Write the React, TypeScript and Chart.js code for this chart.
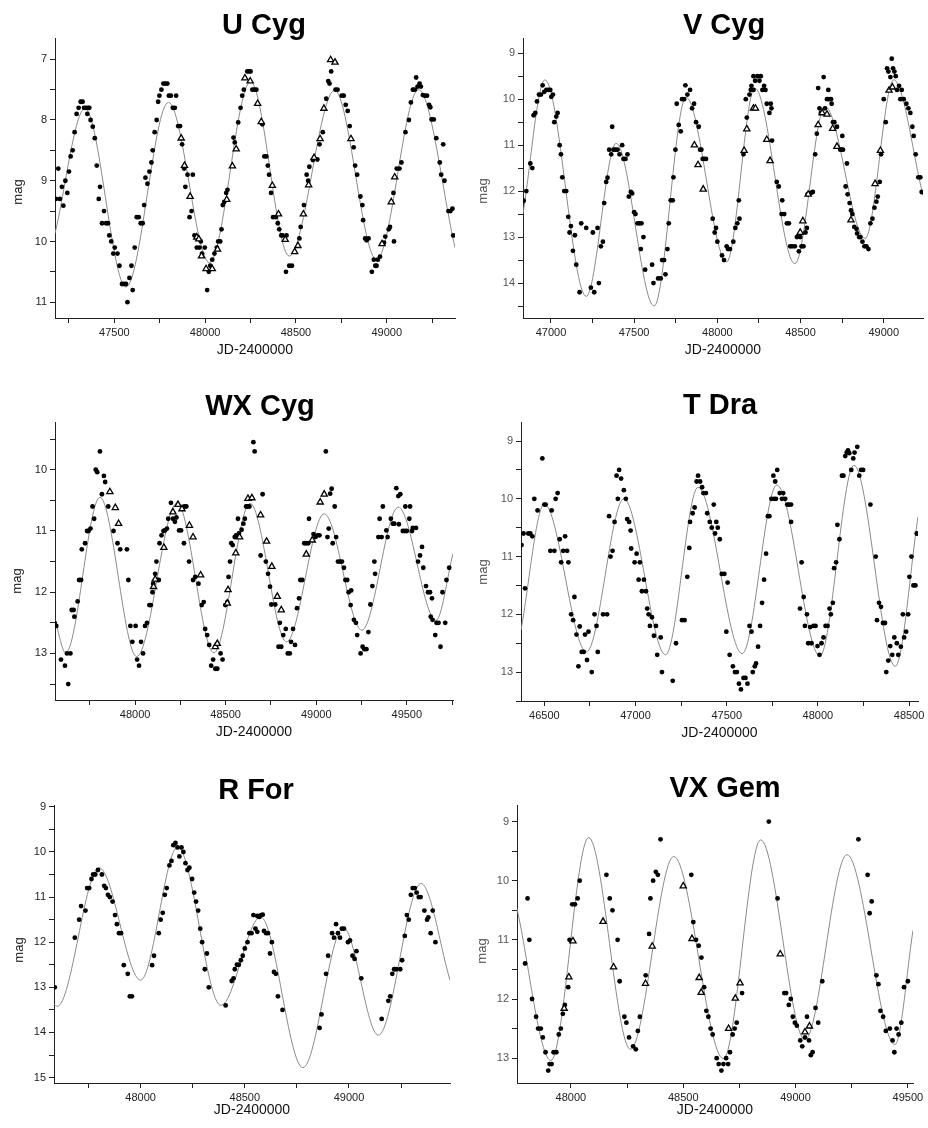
import { useEffect, useRef } from 'react';
import { Chart, registerables } from 'chart.js';

Chart.register(...registerables);

type Pt = [number, number];

// ---- U Cyg ----
const U_CYG_DOTS: Pt[] = [
  [47178, 9.3], [47191, 8.8], [47200, 9.3], [47211, 9.1], [47219, 9.41], [47230, 9.0], [47241, 9.2], [47250, 8.85],
  [47259, 8.6], [47270, 8.5], [47281, 8.2], [47292, 7.9], [47303, 7.8], [47314, 7.7], [47325, 7.7], [47333, 7.8],
  [47344, 7.8], [47351, 7.9], [47355, 7.8], [47362, 7.8], [47369, 8.0], [47381, 8.11], [47392, 8.3], [47403, 8.75],
  [47414, 9.3], [47421, 9.1], [47432, 9.7], [47443, 9.5], [47454, 9.7], [47465, 9.7], [47472, 9.9], [47483, 10.0],
  [47494, 10.2], [47502, 10.1], [47517, 10.2], [47528, 10.4], [47542, 10.7], [47553, 10.7], [47564, 10.7], [47572, 11.0],
  [47583, 10.6], [47594, 10.4], [47601, 10.8], [47612, 10.1], [47623, 9.6], [47634, 9.6], [47645, 9.7], [47656, 9.7],
  [47664, 9.4], [47671, 8.95], [47682, 9.05], [47693, 8.85], [47704, 8.7], [47711, 8.5], [47722, 8.2], [47733, 8.0],
  [47741, 7.7], [47748, 7.6], [47759, 7.5], [47770, 7.4], [47781, 7.4], [47792, 7.4], [47800, 7.6], [47811, 7.6],
  [47822, 7.8], [47833, 7.8], [47840, 7.6], [47851, 8.1], [47862, 8.1], [47873, 8.4], [47884, 8.8], [47891, 9.1],
  [47903, 8.9], [47914, 9.6], [47925, 9.5], [47932, 8.9], [47941, 9.9], [47954, 10.1], [47969, 10.1], [47976, 10.0],
  [47983, 10.2], [47998, 10.1], [48011, 10.8], [48020, 10.5], [48028, 10.4], [48039, 10.3], [48051, 10.2], [48064, 10.1],
  [48072, 10.0], [48083, 10.0], [48090, 9.8], [48097, 9.4], [48105, 9.35], [48116, 9.2], [48123, 9.15],
  [48156, 8.29], [48163, 8.37], [48182, 8.04], [48195, 7.8], [48204, 7.6], [48213, 7.5], [48232, 7.2], [48241, 7.2],
  [48250, 7.2], [48260, 7.5], [48271, 7.5], [48282, 7.5], [48315, 8.07], [48326, 8.6], [48337, 8.6], [48345, 8.75],
  [48352, 8.9], [48363, 9.2], [48374, 9.6], [48389, 9.6], [48400, 9.7], [48408, 9.8], [48419, 9.9], [48426, 9.9],
  [48445, 10.5], [48448, 9.9], [48463, 10.4], [48478, 10.4], [48519, 9.95], [48526, 9.76], [48544, 9.4], [48559, 8.9],
  [48567, 9.0], [48574, 8.77], [48593, 8.66], [48618, 8.65], [48630, 8.4], [48648, 8.2], [48667, 7.65], [48678, 7.36],
  [48685, 7.4], [48694, 7.2], [48718, 7.5], [48729, 7.5], [48752, 7.6], [48763, 7.6], [48774, 7.75], [48785, 7.85],
  [48796, 8.1], [48818, 8.45], [48826, 8.75], [48837, 8.9], [48855, 9.26], [48866, 9.4], [48870, 9.65], [48881, 9.95],
  [48889, 9.98], [48900, 9.95], [48918, 10.5], [48929, 10.3], [48937, 10.4], [48944, 10.4], [48951, 10.3], [48963, 10.25],
  [48985, 10.02], [48992, 9.92], [49011, 9.8], [49018, 9.76], [49037, 9.2], [49040, 10.0], [49055, 8.8], [49070, 8.8],
  [49081, 8.7], [49103, 8.2], [49122, 8.0], [49133, 7.71], [49144, 7.5], [49155, 7.5], [49162, 7.3], [49170, 7.45],
  [49181, 7.4], [49188, 7.45], [49199, 7.59], [49210, 7.6], [49222, 7.6], [49233, 7.75], [49240, 7.79], [49247, 7.99],
  [49259, 7.99], [49273, 8.3], [49292, 8.7], [49300, 8.9], [49311, 8.4], [49318, 9.0], [49340, 9.5], [49351, 9.5],
  [49362, 9.46], [49366, 9.9],
];
const U_CYG_TRIS: Pt[] = [
  [47868, 8.3], [47886, 8.75], [47917, 9.26], [47954, 9.93], [47965, 9.96], [47980, 10.24], [48005, 10.45], [48039, 10.45],
  [48068, 10.13], [48119, 9.31], [48150, 8.76], [48171, 8.48], [48219, 7.31], [48248, 7.36], [48289, 7.73], [48309, 8.03],
  [48370, 9.08], [48404, 9.55], [48441, 9.97], [48493, 10.17], [48511, 10.07], [48541, 9.55], [48570, 9.07], [48600, 8.62],
  [48633, 8.31], [48654, 7.81], [48691, 7.01], [48715, 7.05], [48803, 8.31], [48974, 10.04], [49025, 9.35], [49044, 8.94],
];
const U_CYG_FIT: Pt[] = [
  [47173, 9.87], [47338, 7.81], [47564, 10.75], [47798, 7.71], [48024, 10.35], [48250, 7.37],
  [48463, 10.24], [48713, 7.51], [48944, 10.3], [49175, 7.5], [49376, 10.1],
];

// ---- V Cyg ----
const V_CYG_DOTS: Pt[] = [
  [46836, 12.21], [46852, 12.0], [46876, 11.4], [46888, 11.5], [46896, 10.35], [46906, 10.3], [46916, 10.05], [46928, 9.9],
  [46940, 9.9], [46950, 9.7], [46960, 9.84], [46972, 9.8], [46984, 9.8], [46996, 9.8], [47002, 9.95], [47012, 9.9],
  [47020, 10.5], [47032, 10.38], [47040, 10.3], [47052, 11.0], [47060, 11.2], [47068, 11.7], [47080, 12.0], [47092, 12.0],
  [47104, 12.56], [47112, 12.9], [47120, 12.76], [47132, 13.3], [47144, 12.96], [47152, 13.6], [47172, 14.2], [47182, 12.7],
  [47212, 12.8], [47240, 14.1], [47252, 12.9], [47260, 14.2], [47280, 12.8], [47288, 14.0], [47300, 13.2], [47312, 13.1],
  [47320, 12.26], [47332, 11.8], [47340, 11.71], [47350, 11.1], [47362, 11.2], [47368, 10.6], [47376, 11.1], [47388, 11.1],
  [47400, 11.1], [47412, 11.2], [47428, 11.0], [47436, 11.3], [47448, 11.3], [47460, 11.2], [47468, 12.12], [47480, 12.02],
  [47488, 12.05], [47500, 12.46], [47508, 12.5], [47520, 12.7], [47532, 12.7], [47540, 13.26], [47544, 12.7], [47556, 13.0],
  [47566, 13.71], [47608, 13.6], [47616, 14.0], [47644, 13.9], [47660, 13.9], [47668, 13.5], [47680, 13.5], [47688, 13.81],
  [47700, 13.26], [47708, 12.7], [47720, 12.2], [47732, 12.2], [47736, 11.7], [47748, 11.1], [47756, 10.1], [47768, 10.56],
  [47780, 10.7], [47788, 10.0], [47800, 10.0], [47808, 9.7], [47820, 9.9], [47836, 9.8], [47848, 10.2], [47860, 10.1],
  [47872, 10.5], [47888, 10.6], [47896, 11.1], [47904, 11.1], [47912, 11.3], [47920, 11.3], [47932, 11.3], [47972, 12.6],
  [47984, 12.9], [47992, 12.8], [48000, 13.1], [48028, 13.4], [48040, 13.5], [48056, 13.2], [48064, 13.26], [48076, 13.26],
  [48096, 13.1], [48108, 12.8], [48120, 12.7], [48129, 12.2], [48133, 12.6], [48157, 11.2], [48171, 10.0], [48177, 10.4],
  [48193, 9.9], [48201, 9.8], [48205, 9.71], [48217, 9.8], [48217, 9.5], [48227, 9.6], [48241, 9.5], [48253, 9.6],
  [48261, 9.5], [48271, 9.8], [48281, 9.71], [48289, 9.8], [48297, 10.1], [48313, 10.3], [48321, 10.1], [48325, 10.2],
  [48329, 10.9], [48357, 11.8], [48369, 11.9], [48386, 12.5], [48390, 12.2], [48402, 12.5], [48418, 12.7], [48430, 12.7],
  [48438, 13.2], [48450, 13.2], [48466, 13.2], [48478, 13.0], [48490, 13.31], [48498, 13.0], [48506, 13.2], [48518, 13.2],
  [48530, 12.9], [48538, 12.8], [48542, 12.07], [48562, 12.04], [48574, 12.02], [48588, 11.2], [48598, 10.75], [48606, 9.76],
  [48614, 10.2], [48622, 10.3], [48639, 9.52], [48647, 10.2], [48659, 10.0], [48667, 9.8], [48671, 10.0], [48683, 10.0],
  [48687, 10.1], [48695, 10.5], [48703, 10.5], [48719, 10.6], [48739, 11.1], [48747, 11.1], [48751, 10.8], [48755, 11.1],
  [48771, 11.9], [48779, 11.4], [48783, 12.07], [48795, 12.26], [48803, 12.42], [48811, 12.5], [48823, 12.78], [48836, 12.82],
  [48840, 12.92], [48852, 13.0], [48860, 13.0], [48872, 13.1], [48884, 13.2], [48896, 13.2], [48908, 13.26], [48920, 12.7],
  [48932, 12.6], [48944, 12.36], [48956, 12.23], [48964, 12.12], [48976, 11.8], [48984, 11.2], [49000, 10.0], [49012, 10.5],
  [49020, 9.33], [49028, 9.4], [49040, 9.52], [49048, 9.12], [49056, 9.33], [49064, 9.4], [49072, 9.5], [49080, 9.8],
  [49092, 9.71], [49100, 10.0], [49108, 9.8], [49120, 10.0], [49136, 10.1], [49148, 10.2], [49160, 10.3], [49172, 10.6],
  [49180, 10.8], [49192, 11.2], [49208, 11.7], [49220, 11.7], [49228, 12.02],
];
const V_CYG_TRIS: Pt[] = [
  [47862, 11.0], [47884, 11.43], [47915, 11.96], [48161, 11.12], [48177, 10.65], [48217, 10.2], [48229, 10.2], [48297, 10.88],
  [48317, 11.34], [48498, 12.9], [48514, 12.65], [48546, 12.07], [48606, 10.56], [48630, 10.3], [48659, 10.33], [48693, 10.64],
  [48719, 11.03], [48803, 12.63], [48948, 11.84], [48980, 11.12], [49032, 9.81], [49052, 9.74],
];
const V_CYG_FIT: Pt[] = [
  [46832, 12.49], [46964, 9.58], [47212, 14.29], [47392, 10.96], [47620, 14.5], [47812, 9.96], [48056, 13.54],
  [48225, 9.76], [48466, 13.58], [48647, 10.16], [48888, 13.03], [49060, 9.58], [49236, 12.09],
];

// ---- WX Cyg ----
const WX_CYG_DOTS: Pt[] = [
  [47556, 12.5], [47565, 12.55], [47591, 13.1], [47613, 13.2], [47624, 13.0], [47631, 13.5], [47643, 13.0], [47650, 12.29],
  [47661, 12.29], [47665, 12.4], [47683, 12.15], [47691, 11.8], [47702, 11.8], [47706, 11.3], [47724, 11.2], [47735, 11.0],
  [47743, 11.0], [47754, 10.96], [47765, 10.6], [47774, 10.8], [47783, 10.0], [47791, 10.04], [47806, 9.7], [47817, 10.4],
  [47828, 10.1], [47835, 10.2], [47852, 10.6], [47881, 11.0], [47903, 11.2], [47918, 11.3], [47955, 11.3], [47963, 11.8],
  [47974, 12.55], [47985, 12.81], [48003, 12.55], [48011, 13.1], [48022, 13.2], [48033, 12.81], [48044, 13.0], [48055, 12.55],
  [48066, 12.5], [48079, 12.21], [48087, 12.21], [48096, 12.0], [48100, 11.86], [48111, 11.7], [48118, 11.5], [48124, 11.8],
  [48131, 11.8], [48135, 11.2], [48146, 11.07], [48157, 11.0], [48165, 10.99], [48176, 10.96], [48183, 10.8], [48198, 10.54],
  [48209, 10.8], [48220, 10.85], [48228, 10.78], [48243, 10.99], [48254, 10.99], [48270, 11.2], [48272, 10.6], [48283, 10.6],
  [48298, 11.5], [48320, 11.8], [48332, 11.75], [48350, 11.86], [48368, 12.21], [48379, 12.16], [48387, 12.6], [48398, 12.7],
  [48409, 12.86], [48420, 13.2], [48431, 13.1], [48443, 13.25], [48454, 13.25], [48472, 13.0], [48483, 13.1], [48498, 12.21],
  [48509, 12.16], [48516, 11.75], [48524, 11.5], [48531, 11.2], [48539, 11.23], [48550, 11.1], [48557, 11.07], [48568, 10.8],
  [48573, 11.04], [48588, 10.98], [48598, 10.88], [48606, 10.8], [48613, 10.6], [48620, 10.6], [48631, 10.6], [48653, 9.55],
  [48660, 9.7], [48693, 11.4], [48704, 10.4], [48722, 11.5], [48734, 11.7], [48745, 11.91], [48752, 12.2], [48774, 12.2],
  [48792, 12.89], [48799, 12.5], [48807, 12.89], [48818, 12.7], [48832, 12.6], [48843, 13.0], [48854, 13.0], [48861, 12.81],
  [48872, 12.6], [48883, 12.86], [48894, 12.26], [48905, 12.1], [48912, 11.8], [48923, 11.8], [48934, 11.2], [48945, 11.2],
  [48956, 11.2], [48960, 10.8], [48985, 11.05], [48996, 11.1], [49007, 11.07], [49018, 11.07], [49053, 9.7], [49062, 11.1],
  [49069, 10.96], [49077, 10.39], [49085, 10.31], [49091, 11.2], [49102, 10.6], [49110, 11.1], [49120, 11.5], [49131, 11.5],
  [49142, 11.5], [49153, 11.6], [49161, 11.8], [49171, 11.8], [49179, 12.0], [49190, 12.21], [49193, 11.97], [49208, 12.45],
  [49219, 12.5], [49226, 12.7], [49245, 13.0], [49256, 12.89], [49266, 12.93], [49277, 12.93], [49288, 12.65], [49299, 12.2],
  [49310, 11.9], [49321, 11.5], [49325, 11.7], [49343, 11.1], [49350, 10.8], [49361, 11.1], [49368, 10.6], [49387, 10.99],
  [49394, 11.1], [49412, 10.8], [49423, 10.88], [49431, 10.88], [49442, 10.3], [49453, 10.43], [49456, 10.89], [49464, 10.4],
  [49478, 11.0], [49489, 11.0], [49492, 10.6], [49500, 11.0], [49514, 10.8], [49518, 10.6], [49529, 11.0], [49533, 10.95],
  [49551, 10.95], [49562, 11.5], [49573, 11.4], [49584, 11.26], [49591, 11.6], [49606, 11.9], [49617, 12.0], [49628, 12.0],
  [49632, 12.4], [49639, 12.1], [49642, 12.45], [49657, 12.7], [49664, 12.5], [49675, 12.5], [49686, 12.89], [49697, 12.0],
  [49712, 12.5], [49719, 11.8], [49734, 11.6],
];
const WX_CYG_TRIS: Pt[] = [
  [47861, 10.36], [47891, 10.62], [47909, 10.88], [48102, 11.91], [48111, 11.79], [48159, 11.27], [48209, 10.69], [48237, 10.57],
  [48259, 10.64], [48300, 10.91], [48320, 11.1], [48362, 11.72], [48443, 12.89], [48454, 12.84], [48509, 12.18], [48513, 11.96],
  [48556, 11.36], [48577, 11.1], [48623, 10.47], [48645, 10.46], [48693, 10.74], [48726, 11.17], [48755, 11.58], [48785, 12.07],
  [48807, 12.29], [48945, 11.38], [48978, 11.15], [49022, 10.53], [49044, 10.4],
];
const WX_CYG_FIT: Pt[] = [
  [47558, 12.45], [47617, 12.99], [47806, 10.45], [48009, 13.05], [48232, 10.54], [48435, 12.99], [48635, 10.55],
  [48836, 12.81], [49044, 10.72], [49252, 12.62], [49453, 10.61], [49661, 12.46], [49755, 11.37],
];

// ---- T Dra ----
const T_DRA_DOTS: Pt[] = [
  [46375, 10.8], [46386, 10.6], [46394, 11.55], [46412, 10.6], [46423, 10.6], [46434, 10.65], [46445, 10.0], [46463, 10.2],
  [46489, 9.3], [46500, 10.1], [46507, 10.1], [46533, 10.9], [46540, 10.2], [46555, 10.9], [46562, 10.0], [46573, 9.9],
  [46584, 10.7], [46592, 11.1], [46603, 10.9], [46614, 10.65], [46625, 10.9], [46632, 11.1], [46647, 12.0], [46658, 12.1],
  [46665, 11.7], [46676, 12.35], [46687, 12.9], [46694, 12.21], [46705, 12.65], [46716, 12.65], [46723, 12.35], [46734, 12.79],
  [46742, 12.3], [46760, 13.0], [46775, 12.0], [46786, 12.2], [46793, 12.65], [46822, 12.0], [46844, 12.0], [46855, 10.3],
  [46863, 11.0], [46874, 10.9], [46885, 10.4], [46896, 9.6], [46903, 10.0], [46910, 9.5], [46921, 9.65], [46936, 9.85],
  [46947, 10.0], [46954, 10.35], [46965, 10.4], [46973, 10.55], [46976, 10.86], [46995, 11.1], [47006, 10.95], [47017, 11.4],
  [47024, 11.1], [47035, 11.6], [47046, 11.4], [47057, 11.6], [47064, 11.9], [47072, 12.0], [47079, 12.2], [47090, 12.05],
  [47101, 12.37], [47112, 12.2], [47119, 12.7], [47138, 12.4], [47145, 13.0], [47204, 13.15], [47222, 12.5], [47255, 12.1],
  [47269, 12.1], [47284, 11.35], [47295, 10.85], [47299, 10.4], [47313, 10.25], [47324, 10.15], [47335, 9.7], [47343, 9.6],
  [47354, 9.7], [47365, 9.8], [47372, 9.9], [47386, 9.9], [47393, 10.25], [47407, 10.4], [47418, 10.5], [47429, 10.1],
  [47436, 10.6], [47443, 10.4], [47451, 10.5], [47462, 10.7], [47473, 11.3], [47487, 11.3], [47498, 12.3], [47505, 11.45],
  [47516, 12.7], [47534, 12.9], [47545, 13.0], [47556, 13.0], [47567, 13.2], [47578, 13.3], [47592, 13.1], [47603, 13.1],
  [47614, 13.2], [47625, 12.2], [47636, 12.3], [47643, 13.0], [47654, 12.9], [47661, 12.85], [47672, 12.56], [47683, 12.2],
  [47694, 11.8], [47705, 11.4], [47716, 10.95], [47726, 10.3], [47734, 10.3], [47745, 10.0], [47756, 9.6], [47759, 10.0],
  [47766, 9.7], [47770, 10.0], [47777, 9.5], [47791, 9.9], [47803, 10.0], [47810, 9.9], [47821, 10.0], [47832, 10.1],
  [47842, 10.1], [47853, 10.1], [47853, 10.4], [47902, 11.9], [47911, 11.1], [47922, 11.7], [47929, 12.2], [47940, 12.0],
  [47947, 12.5], [47958, 12.22], [47965, 12.5], [47976, 12.2], [47987, 12.2], [47998, 12.55], [48009, 12.7], [48020, 12.5],
  [48031, 12.4], [48042, 12.2], [48053, 12.2], [48064, 11.9], [48071, 12.0], [48082, 11.8], [48089, 11.2], [48100, 11.1],
  [48107, 10.45], [48118, 10.7], [48132, 9.6], [48140, 9.6], [48150, 9.26], [48158, 9.2], [48165, 9.16], [48172, 9.21],
  [48183, 9.5], [48194, 9.3], [48201, 9.2], [48216, 9.1], [48227, 9.6], [48237, 9.5], [48248, 9.5], [48288, 10.1],
  [48317, 11.0], [48324, 12.1], [48335, 11.8], [48346, 11.87], [48357, 12.15], [48368, 12.15], [48375, 13.0], [48386, 12.8],
  [48397, 12.55], [48408, 12.7], [48419, 12.4], [48433, 12.5], [48441, 12.7], [48455, 12.56], [48466, 12.0], [48473, 12.4],
  [48484, 12.3], [48495, 12.0], [48502, 11.35], [48513, 11.0], [48524, 11.5], [48535, 11.5], [48542, 10.6],
];
const T_DRA_FIT: Pt[] = [
  [46372, 12.27], [46500, 10.09], [46731, 12.65], [46936, 10.0], [47165, 12.7], [47343, 9.8], [47585, 12.68],
  [47775, 9.76], [48011, 12.72], [48198, 9.42], [48424, 12.9], [48549, 10.31],
];

// ---- R For ----
const R_FOR_DOTS: Pt[] = [
  [47588, 13.0], [47684, 11.9], [47705, 11.5], [47714, 11.2], [47735, 11.3], [47743, 10.8], [47753, 10.8], [47764, 10.6],
  [47772, 10.5], [47782, 10.5], [47795, 10.4], [47814, 10.5], [47825, 10.75], [47833, 10.8], [47843, 10.95], [47852, 11.0],
  [47865, 11.1], [47877, 11.4], [47886, 11.6], [47896, 11.8], [47906, 11.8], [47919, 12.51], [47938, 12.7], [47948, 13.2],
  [47958, 13.2], [48055, 12.51], [48064, 12.3], [48087, 11.8], [48096, 11.5], [48106, 11.35], [48116, 10.95], [48125, 10.8],
  [48138, 10.3], [48148, 10.2], [48157, 9.85], [48167, 9.8], [48177, 9.9], [48186, 10.1], [48196, 9.9], [48205, 10.0],
  [48215, 10.25], [48225, 10.4], [48234, 10.35], [48247, 10.6], [48257, 10.9], [48266, 11.1], [48276, 11.3], [48286, 11.7],
  [48295, 12.0], [48308, 12.6], [48318, 12.25], [48327, 13.0], [48408, 13.4], [48437, 12.86], [48446, 12.8], [48452, 12.6],
  [48462, 12.5], [48471, 12.5], [48481, 12.4], [48490, 12.3], [48500, 12.14], [48513, 12.0], [48522, 11.8], [48532, 11.8],
  [48541, 11.4], [48551, 11.7], [48560, 11.77], [48560, 11.42], [48570, 11.44], [48578, 11.4], [48586, 11.39], [48592, 11.75],
  [48602, 11.8], [48611, 11.8], [48621, 12.25], [48630, 12.0], [48640, 12.66], [48649, 12.7], [48659, 13.2], [48681, 13.5],
  [48859, 13.9], [48868, 13.6], [48890, 12.7], [48900, 12.3], [48919, 11.8], [48928, 11.9], [48938, 11.6], [48947, 11.8],
  [48957, 11.9], [48966, 11.7], [48976, 11.7], [48995, 12.0], [49005, 11.96], [49017, 12.3], [49027, 12.37], [49036, 12.2],
  [49059, 12.8], [49157, 13.7], [49189, 13.3], [49198, 13.2], [49208, 12.7], [49217, 12.6], [49227, 12.6], [49246, 12.6],
  [49255, 12.4], [49268, 11.86], [49278, 11.4], [49287, 11.5], [49297, 10.95], [49306, 10.8], [49316, 10.8], [49325, 10.9],
  [49335, 11.0], [49344, 11.0], [49362, 11.3], [49375, 11.5], [49381, 11.45], [49392, 11.8], [49402, 11.3], [49415, 12.0],
];
const R_FOR_FIT: Pt[] = [
  [47584, 13.38], [47600, 13.42], [47801, 10.35], [48000, 12.84], [48178, 9.89], [48385, 13.4], [48576, 11.44],
  [48779, 14.78], [48973, 11.68], [49141, 14.06], [49346, 10.7], [49485, 12.84],
];

// ---- VX Gem ----
const VX_GEM_DOTS: Pt[] = [
  [47796, 11.4], [47807, 10.3], [47815, 11.0], [47827, 12.0], [47845, 12.3], [47854, 12.5], [47866, 12.5], [47875, 12.65],
  [47887, 12.9], [47899, 13.21], [47905, 13.1], [47914, 13.1], [47923, 12.9], [47935, 12.9], [47946, 12.6], [47955, 12.5],
  [47964, 12.25], [47973, 12.1], [47988, 11.8], [47994, 11.0], [48006, 10.4], [48018, 10.4], [48030, 10.3], [48039, 10.0],
  [48158, 9.9], [48173, 10.3], [48185, 10.5], [48208, 11.0], [48217, 11.7], [48238, 12.3], [48247, 12.4], [48259, 12.65],
  [48277, 12.8], [48289, 12.85], [48298, 12.54], [48307, 12.3], [48333, 11.6], [48348, 10.9], [48354, 10.3], [48366, 10.0],
  [48378, 9.85], [48387, 9.9], [48399, 9.3], [48536, 9.9], [48545, 10.7], [48557, 11.0], [48569, 11.1], [48581, 11.3],
  [48593, 11.8], [48603, 12.2], [48612, 12.3], [48622, 12.5], [48631, 12.6], [48649, 13.0], [48658, 13.1], [48670, 13.21],
  [48679, 13.1], [48691, 13.0], [48700, 13.1], [48708, 12.9], [48720, 12.6], [48729, 12.5], [48738, 12.4], [48762, 11.9],
  [48881, 9.0], [48920, 10.3], [48950, 11.9], [48958, 11.9], [48970, 12.1], [48979, 12.0], [48988, 12.3], [48997, 12.4],
  [49006, 12.45], [49021, 12.7], [49030, 12.8], [49042, 12.65], [49051, 12.3], [49060, 12.7], [49068, 12.95], [49076, 12.9],
  [49089, 12.15], [49101, 12.4], [49119, 11.7], [49280, 9.3], [49321, 9.9], [49330, 10.55], [49339, 10.35], [49360, 11.6],
  [49369, 11.75], [49378, 12.2], [49390, 12.3], [49402, 12.54], [49420, 12.5], [49432, 12.7], [49440, 12.9], [49450, 12.5],
  [49459, 12.6], [49471, 12.4], [49483, 11.8], [49500, 11.7],
];
const VX_GEM_TRIS: Pt[] = [
  [47970, 12.16], [47991, 11.63], [48009, 11.02], [48143, 10.69], [48190, 11.46], [48332, 11.74], [48362, 11.11], [48500, 10.09],
  [48539, 10.98], [48571, 11.64], [48580, 11.89], [48702, 12.5], [48732, 11.99], [48753, 11.73], [48932, 11.24], [49042, 12.56],
  [49062, 12.46],
];
const VX_GEM_FIT: Pt[] = [
  [47760, 10.47], [47911, 13.04], [48079, 9.27], [48265, 12.85], [48458, 9.59], [48679, 13.01], [48845, 9.31],
  [49042, 12.69], [49229, 9.56], [49443, 12.77], [49523, 10.84],
];

// Tick spacing (JD days and magnitudes)
const X_MAJOR = 500;
const X_MINOR = 250;
const Y_MINOR = 0.5;
const X_TITLE = 'JD-2400000';
const Y_TITLE = 'mag';

const FONT = '"Liberation Sans", Arial, Helvetica, sans-serif';

interface PanelSpec {
  name: string;
  dots: Pt[];
  tris: Pt[];
  fit: Pt[];
  xRange: [number, number];
  yRange: [number, number];
  // plot area in page pixels
  l: number; r: number; t: number; b: number;
  titleX: number; titleCapTop: number;
  magX: number; magY: number;
  jdGap: number;
  labelColor: string;
}

const PANELS: PanelSpec[] = [
  { name: 'U Cyg', dots: U_CYG_DOTS, tris: U_CYG_TRIS, fit: U_CYG_FIT, xRange: [47173, 49376], yRange: [6.65, 11.26],
    l: 55, r: 455, t: 38, b: 318, titleX: 264, titleCapTop: 12, magX: 20, magY: 192, jdGap: 33, labelColor: '#222' },
  { name: 'V Cyg', dots: V_CYG_DOTS, tris: V_CYG_TRIS, fit: V_CYG_FIT, xRange: [46832, 49236], yRange: [8.67, 14.76],
    l: 523, r: 923, t: 38, b: 318, titleX: 724, titleCapTop: 12, magX: 485, magY: 191, jdGap: 33, labelColor: '#555' },
  { name: 'WX Cyg', dots: WX_CYG_DOTS, tris: WX_CYG_TRIS, fit: WX_CYG_FIT, xRange: [47558, 49755], yRange: [9.22, 13.76],
    l: 55, r: 453, t: 422, b: 700, titleX: 260, titleCapTop: 393, magX: 19, magY: 581, jdGap: 33, labelColor: '#222' },
  { name: 'T Dra', dots: T_DRA_DOTS, tris: [], fit: T_DRA_FIT, xRange: [46372, 48549], yRange: [8.67, 13.5],
    l: 521, r: 918, t: 422, b: 701, titleX: 720, titleCapTop: 392, magX: 485, magY: 572, jdGap: 33, labelColor: '#555' },
  { name: 'R For', dots: R_FOR_DOTS, tris: [], fit: R_FOR_FIT, xRange: [47584, 49485], yRange: [8.96, 15.12],
    l: 54, r: 450, t: 805, b: 1083, titleX: 256, titleCapTop: 777, magX: 21, magY: 950, jdGap: 28, labelColor: '#222' },
  { name: 'VX Gem', dots: VX_GEM_DOTS, tris: VX_GEM_TRIS, fit: VX_GEM_FIT, xRange: [47760, 49523], yRange: [8.72, 13.42],
    l: 517, r: 913, t: 805, b: 1083, titleX: 725, titleCapTop: 775, magX: 484, magY: 951, jdGap: 28, labelColor: '#555' },
];

const Y_AXIS_W = 45;
const PAD_TOP = 10;
const PAD_RIGHT = 14;

function geometry(p: PanelSpec) {
  const left = p.l - Y_AXIS_W;
  const top = p.t - PAD_TOP;
  const width = p.r + PAD_RIGHT - left;
  const height = Math.round(p.b + p.jdGap + 10.4 - top);
  const xAxisH = top + height - p.b;
  return { left, top, width, height, xAxisH };
}

// Regular ticks at every multiple of `step` that falls inside [min, max]
function stepTicks(min: number, max: number, step: number) {
  const out: { value: number }[] = [];
  const first = Math.ceil(min / step - 1e-9);
  for (let k = first; k * step <= max + 1e-9; k++) {
    out.push({ value: Math.round(k * step * 1000) / 1000 });
  }
  return out;
}

function LightCurve({ p }: { p: PanelSpec }) {
  const ref = useRef<HTMLCanvasElement | null>(null);
  const g = geometry(p);

  useEffect(() => {
    if (!ref.current) return;
    const axisColor = '#222';
    const chart = new Chart(ref.current, {
      type: 'scatter',
      data: {
        datasets: [
          {
            label: 'triangles',
            data: p.tris as any,
            pointStyle: 'triangle',
            pointRadius: 3.6,
            backgroundColor: '#ffffff',
            borderColor: '#000000',
            borderWidth: 1.3,
            order: 0,
          },
          {
            label: 'dots',
            data: p.dots as any,
            pointStyle: 'circle',
            pointRadius: 2.4,
            backgroundColor: '#000000',
            borderWidth: 0,
            order: 1,
          },
          {
            type: 'line',
            label: 'fit',
            data: p.fit as any,
            borderColor: '#8a8a8a',
            borderWidth: 1,
            pointRadius: 0,
            cubicInterpolationMode: 'monotone',
            fill: false,
            order: 2,
          } as any,
        ],
      },
      options: {
        animation: false,
        responsive: false,
        events: [],
        layout: { padding: { top: PAD_TOP, right: PAD_RIGHT, bottom: 0, left: 0 } },
        plugins: { legend: { display: false }, tooltip: { enabled: false }, title: { display: false } },
        scales: {
          x: {
            type: 'linear',
            min: p.xRange[0],
            max: p.xRange[1],
            afterBuildTicks: (s: any) => { s.ticks = stepTicks(p.xRange[0], p.xRange[1], X_MINOR); },
            afterFit: (s: any) => { s.height = g.xAxisH; },
            border: { display: true, color: axisColor, width: 1 },
            grid: { display: true, drawOnChartArea: false, drawTicks: true, tickLength: 5, color: axisColor, lineWidth: 1 },
            ticks: {
              autoSkip: false,
              maxRotation: 0,
              padding: 3,
              color: '#222',
              font: { family: FONT, size: 11 },
              callback: (v: any) => (Math.round(Number(v)) % X_MAJOR === 0 ? String(Math.round(Number(v))) : ''),
            },
            title: {
              display: true,
              text: X_TITLE,
              color: '#111',
              font: { family: FONT, size: 14 },
              padding: { top: 0, bottom: 2 },
            },
          },
          y: {
            type: 'linear',
            reverse: true,
            min: p.yRange[0],
            max: p.yRange[1],
            afterBuildTicks: (s: any) => { s.ticks = stepTicks(p.yRange[0], p.yRange[1], Y_MINOR); },
            afterFit: (s: any) => { s.width = Y_AXIS_W; },
            border: { display: true, color: axisColor, width: 1 },
            grid: { display: true, drawOnChartArea: false, drawTicks: true, tickLength: 5, color: axisColor, lineWidth: 1 },
            ticks: {
              autoSkip: false,
              padding: 3,
              color: p.labelColor,
              font: { family: FONT, size: 11 },
              callback: (v: any) => (Number.isInteger(Number(v)) ? String(v) : ''),
            },
          },
        },
      } as any,
    });
    return () => chart.destroy();
  }, [p]);

  return (
    <>
      <canvas
        ref={ref}
        width={g.width}
        height={g.height}
        style={{ position: 'absolute', left: g.left, top: g.top, width: g.width, height: g.height }}
      />
      <div
        style={{
          position: 'absolute',
          left: p.titleX - 150,
          top: p.titleCapTop - 3.8,
          width: 300,
          height: 29,
          lineHeight: '29px',
          textAlign: 'center',
          font: `bold 29px ${FONT}`,
          color: '#000',
          whiteSpace: 'nowrap',
        }}
      >
        {p.name}
      </div>
      <div
        style={{
          position: 'absolute',
          left: p.magX - 2.5 - 20,
          top: p.magY - 8,
          width: 40,
          height: 16,
          lineHeight: '16px',
          textAlign: 'center',
          font: `13px ${FONT}`,
          color: p.labelColor,
          transform: 'rotate(-90deg)',
          whiteSpace: 'nowrap',
        }}
      >
        {Y_TITLE}
      </div>
    </>
  );
}

export default function App() {
  return (
    <div
      style={{
        position: 'absolute',
        left: 0,
        top: 0,
        width: 928,
        height: 1128,
        background: '#ffffff',
        overflow: 'hidden',
      }}
    >
      {PANELS.map((p) => (
        <LightCurve key={p.name} p={p} />
      ))}
    </div>
  );
}
